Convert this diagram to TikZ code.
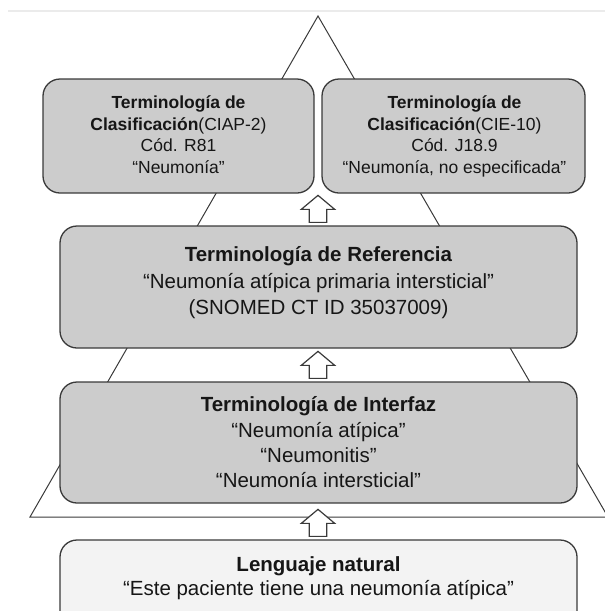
\documentclass[tikz,border=0pt]{standalone}
\usepackage{fontspec}
\setmainfont{Liberation Sans}
\definecolor{boxfill}{HTML}{CCCCCC}
\definecolor{natfill}{HTML}{F3F3F3}
\definecolor{edge}{HTML}{3A3A3A}
\definecolor{topline}{HTML}{EBEBEB}
\definecolor{txtcol}{HTML}{161616}
\tikzset{
  box/.style={draw=edge, line width=1.3pt, fill=boxfill, rounded corners=17pt, inner sep=0pt},
  natbox/.style={box, fill=natfill},
  txt/.style={anchor=north, inner sep=0pt, align=center, text=txtcol},
  smalltxt/.style={txt, font=\fontsize{17.5}{21.8}\selectfont},
  triline/.style={draw=edge, line width=1pt, line join=miter},
  uparrow/.pic={\draw[edge, line width=1.2pt, fill=white, line join=miter]
    (-8.7,0) -- (-8.7,-13) -- (-16.7,-13) -- (0,-27) -- (16.7,-13) -- (8.7,-13) -- (8.7,0) -- cycle;}
}
\begin{document}
\begin{tikzpicture}[x=1pt,y=-1pt]
\useasboundingbox (0,0) rectangle (605,611);
% faint top line
\coordinate (tl1) at (8,11);
\coordinate (tl2) at (605,11);
\draw[topline, line width=1.5pt] (tl1) -- (tl2);
% pyramid
\coordinate (apex) at (318,16);
\coordinate (bl) at (30,517);
\coordinate (br) at (608,517);
\draw[triline] (bl) -- (apex) -- (br) -- cycle;
% classification boxes
\node[box, minimum width=271pt, minimum height=114pt] (clsL) at (178.5,136) {};
\node[box, minimum width=263pt, minimum height=114pt] (clsR) at (453.5,136) {};
\node[smalltxt] (clsLt) at (178.5,92.74) {\strut\textbf{Terminología de}\\\textbf{Clasificación}(CIAP-2)\\Cód. R81\\“Neumonía”};
\node[smalltxt] (clsRt) at (454.5,92.74) {\strut\textbf{Terminología de}\\\textbf{Clasificación}(CIE-10)\\Cód. J18.9\\“Neumonía, no especificada”};
% reference box
\node[box, minimum width=517pt, minimum height=122pt] (ref) at (318.5,287) {};
\node[txt, font=\fontsize{20.5}{26.2}\selectfont] (reft) at (318.5,243.36) {\strut\textbf{Terminología de Referencia}\\“Neumonía atípica primaria intersticial”\\(SNOMED CT ID 35037009)};
% interface box
\node[box, minimum width=517pt, minimum height=121pt] (intf) at (318.5,442.5) {};
\node[txt, font=\fontsize{20.5}{25.1}\selectfont] (intft) at (318.5,394.13) {\strut\textbf{Terminología de Interfaz}\\“Neumonía atípica”\\“Neumonitis”\\“Neumonía intersticial”};
% natural language box
\node[natbox, minimum width=517pt, minimum height=90pt] (nat) at (318.5,585) {};
\node[txt, font=\fontsize{20.5}{23.3}\selectfont] (natt) at (318.5,555.39) {\strut\textbf{Lenguaje natural}\\“Este paciente tiene una neumonía atípica”};
% block arrows
\path (ref.north) ++(-0.5,-3) coordinate (a1);
\path (intf.north) ++(-0.5,-3) coordinate (a2);
\path (nat.north) ++(-0.5,-3) coordinate (a3);
\pic at (a1) {uparrow};
\pic at (a2) {uparrow};
\pic at (a3) {uparrow};
\end{tikzpicture}
\end{document}
